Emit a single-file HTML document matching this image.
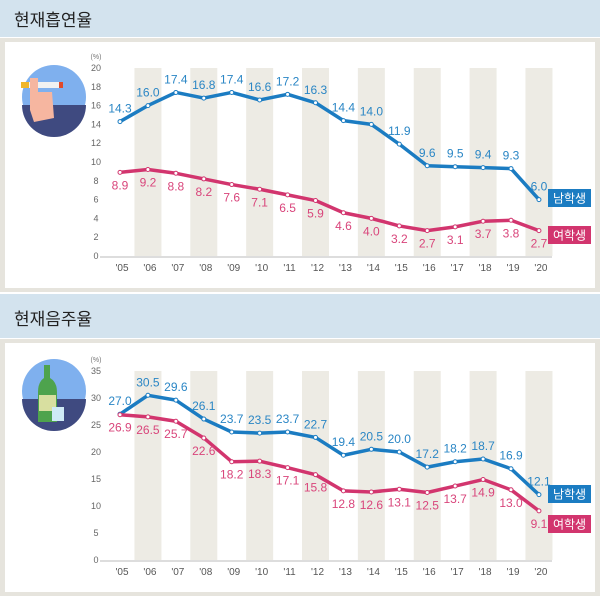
<!DOCTYPE html>
<html><head><meta charset="utf-8"><style>
body{margin:0;width:600px;height:596px;background:#fff;font-family:"Liberation Sans","Noto Sans CJK KR",sans-serif;overflow:hidden}
.hdr{position:absolute;left:0;width:600px;background:#d3e3ee;}
.hdr span{position:absolute;left:14px;font-size:17px;color:#222;font-family:"Noto Sans CJK KR",sans-serif}
.panel{position:absolute;left:0;width:600px;background:#e6e4dd}
.inner{position:absolute;left:5px;right:5px;top:4px;bottom:4px;background:#fff}
svg{position:absolute;left:0;top:0}
</style></head><body>
<div class="hdr" style="top:0;height:37px"><span style="top:6px">현재흡연율</span></div>
<div class="panel" style="top:38px;height:254px"><div class="inner"></div></div>
<div class="hdr" style="top:294px;height:44px"><span style="top:11px">현재음주율</span></div>
<div class="panel" style="top:339px;height:257px"><div class="inner"></div></div>
<svg id="s" width="600" height="596"></svg>
<script>
const years=["'05","'06","'07","'08","'09","'10","'11","'12","'13","'14","'15","'16","'17","'18","'19","'20"];
const smokeMale=[14.3,16.0,17.4,16.8,17.4,16.6,17.2,16.3,14.4,14.0,11.9,9.6,9.5,9.4,9.3,6.0];
const smokeFemale=[8.9,9.2,8.8,8.2,7.6,7.1,6.5,5.9,4.6,4.0,3.2,2.7,3.1,3.7,3.8,2.7];
const drinkMale=[27.0,30.5,29.6,26.1,23.7,23.5,23.7,22.7,19.4,20.5,20.0,17.2,18.2,18.7,16.9,12.1];
const drinkFemale=[26.9,26.5,25.7,22.6,18.2,18.3,17.1,15.8,12.8,12.6,13.1,12.5,13.7,14.9,13.0,9.1];
const smokeTicks=[0,2,4,6,8,10,12,14,16,18,20];
const drinkTicks=[0,5,10,15,20,25,30,35];
const NS="http://www.w3.org/2000/svg",svg=document.getElementById('s');
function el(t,a,txt){const e=document.createElementNS(NS,t);for(const k in a)e.setAttribute(k,a[k]);if(txt!==undefined)e.textContent=txt;svg.appendChild(e);return e;}
const BLUE="#1b7cc2",PINK="#d2356e";
function chart(cfg){
 const x=i=>120+i*27.93, y=v=>cfg.y0-(v/cfg.max)*(cfg.y0-cfg.yTop);
 years.forEach((yr,i)=>{
  if(i%2===1){const b=el('rect',{x:x(i)-13.5,y:cfg.yTop,width:27,height:cfg.y0-cfg.yTop,fill:'#edebe4'});
   }
  const t=el('text',{x:x(i)+2,y:cfg.y0+15,'font-size':10,fill:'#555','text-anchor':'middle'},yr);
  
 });
 const ax=el('line',{x1:100,x2:552,y1:cfg.y0+1,y2:cfg.y0+1,stroke:'#bbb','stroke-width':1});
 
 cfg.ticks.forEach(v=>{const t=el('text',{x:96,y:y(v)+3,'font-size':9,fill:'#666','text-anchor':'middle'},v);
  });
 const u=el('text',{x:96,y:cfg.yTop-9,'font-size':7,fill:'#777','text-anchor':'middle'},'(%)');
 
 [[cfg.male,BLUE,'#2a86c5',-9,'male'],[cfg.female,PINK,'#d9457b',17,'female']].forEach(([d,c,tc,off,nm])=>{
  const p=el('polyline',{points:d.map((v,i)=>x(i)+','+y(v)).join(' '),fill:'none',stroke:c,'stroke-width':3.5,'stroke-linejoin':'round'});
  
  d.forEach((v,i)=>{const m=el('circle',{cx:x(i),cy:y(v),r:2,fill:'#fff',stroke:c,'stroke-width':1});
   
   const t=el('text',{x:x(i),y:y(v)+off,'font-size':12,fill:tc,'text-anchor':'middle'},v.toFixed(1));
   });
 });
 [[cfg.lm,BLUE,'남학생','legend-male'],[cfg.lf,PINK,'여학생','legend-female']].forEach(([ly,c,tx,nm])=>{
  const r=el('rect',{x:548,y:ly,width:43,height:18,fill:c});
  const t=el('text',{x:569.5,y:ly+13.5,'font-size':12,fill:'#fff','text-anchor':'middle','font-family':'Noto Sans CJK KR,sans-serif'},tx);
  });
}
chart({id:'smoke',male:smokeMale,female:smokeFemale,ticks:smokeTicks,max:20,yTop:68,y0:256,lm:189,lf:226});
chart({id:'drink',male:drinkMale,female:drinkFemale,ticks:drinkTicks,max:35,yTop:371,y0:560,lm:485,lf:515});
function icon(cy,nm){const c=el('circle',{cx:54,cy:cy,r:32,fill:'#7fb0ee'});
 const b=el('path',{d:`M22 ${cy+8} A32 32 0 0 0 86 ${cy+8} Z`,fill:'#3f4a80'});}
icon(97,'cigarette-icon');icon(391,'bottle-icon');
el('rect',{x:21,y:82,width:42,height:6,fill:'#f1f1f1'});el('rect',{x:21,y:82,width:8,height:6,fill:'#f0b62a'});el('rect',{x:59,y:82,width:4,height:6,fill:'#e04a2a'});
el('path',{d:'M30 78 L38 78 L38 92 L52 92 L54 118 L34 122 L30 110 Z',fill:'#f6b6a0'});
el('path',{d:'M44 365 L50 365 L50 378 Q57 382 57 392 L57 422 L38 422 L38 392 Q38 382 44 378 Z',fill:'#4ea34d'});
el('rect',{x:39,y:395,width:17,height:16,fill:'#d8dfa0'});
el('rect',{x:52,y:407,width:12,height:14,fill:'#cfeaf5'});
</script></body></html>
